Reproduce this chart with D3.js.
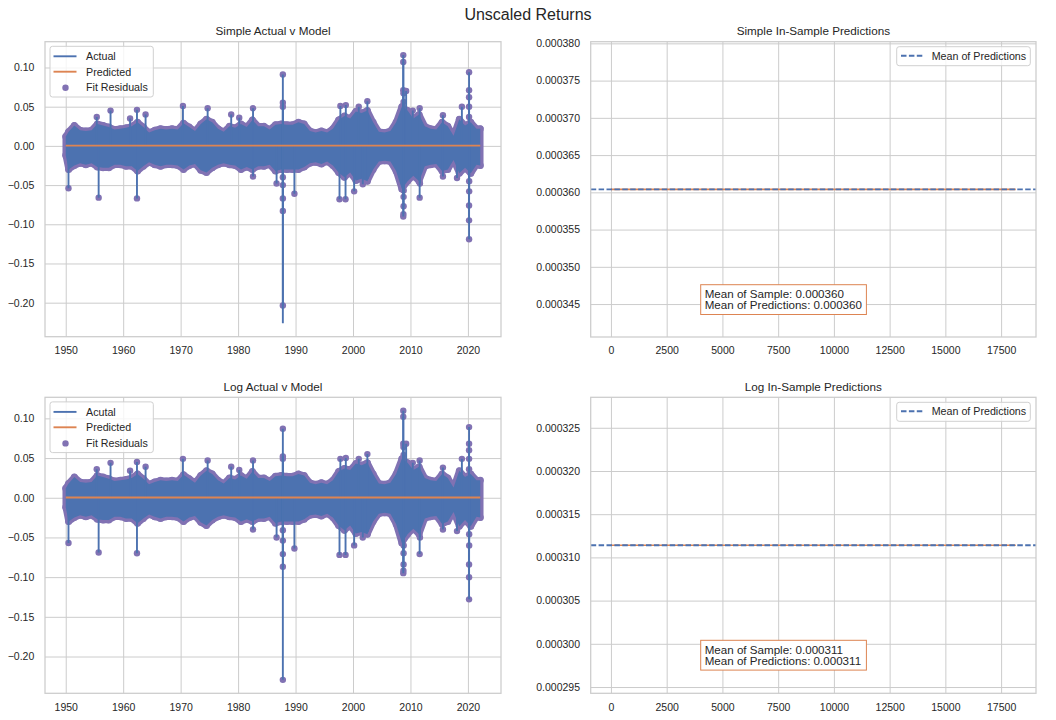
<!DOCTYPE html>
<html><head><meta charset="utf-8">
<script src="https://cdn.jsdelivr.net/npm/d3@7"></script>
<style>
body{margin:0;background:#fff;}
svg text{font-family:"Liberation Sans",Arial,Helvetica,sans-serif;}
</style></head><body>
<svg id="chart" width="1056" height="720"></svg>
<script>
// ---------------- DATA ----------------
const suptitle = "Unscaled Returns";
const panelTitles = ["Simple Actual v Model", "Simple In-Sample Predictions", "Log Actual v Model", "Log In-Sample Predictions"];
const simpleLegend = ["Actual", "Predicted", "Fit Residuals"];
const logLegend = ["Acutal", "Predicted", "Fit Residuals"];
const meanLegend = "Mean of Predictions";

// dates of the envelope points of the daily return band (start, mid-years, end)
const bandDates = [1950.0].concat(d3.range(1950.5, 2022, 1)).concat([2022.15]);

// typical upper / lower envelope of daily simple returns
const simpleBandHi = [0.012,
 0.018,0.026,0.020,0.019,0.020,0.028,0.026,0.024,0.021,0.022,
 0.023,0.025,0.030,0.024,0.017,0.020,0.022,0.021,0.022,0.021,
 0.029,0.024,0.019,0.028,0.034,0.030,0.022,0.018,0.025,0.023,
 0.028,0.024,0.033,0.025,0.025,0.021,0.027,0.028,0.027,0.027,
 0.030,0.028,0.019,0.017,0.019,0.017,0.022,0.033,0.038,0.035,
 0.044,0.042,0.045,0.030,0.018,0.017,0.019,0.030,0.050,0.045,
 0.035,0.040,0.025,0.022,0.021,0.030,0.025,0.013,0.034,0.026,
 0.030,0.022,
 0.022];
const simpleBandLo = [-0.012,
 -0.030,-0.025,-0.022,-0.024,-0.022,-0.027,-0.028,-0.028,-0.024,-0.024,
 -0.026,-0.026,-0.032,-0.026,-0.021,-0.024,-0.026,-0.024,-0.024,-0.025,
 -0.030,-0.025,-0.023,-0.031,-0.034,-0.028,-0.024,-0.022,-0.024,-0.025,
 -0.030,-0.027,-0.030,-0.026,-0.026,-0.024,-0.032,-0.030,-0.030,-0.030,
 -0.030,-0.027,-0.022,-0.021,-0.023,-0.020,-0.025,-0.034,-0.040,-0.034,
 -0.044,-0.042,-0.045,-0.030,-0.020,-0.019,-0.020,-0.032,-0.055,-0.045,
 -0.038,-0.045,-0.026,-0.024,-0.023,-0.032,-0.030,-0.018,-0.035,-0.028,
 -0.035,-0.024,
 -0.025];
// log returns envelope (visually the same as simple at this scale)
const logBandHi = [0.012,
 0.018,0.026,0.020,0.019,0.020,0.028,0.026,0.024,0.021,0.022,
 0.023,0.025,0.030,0.024,0.017,0.020,0.022,0.021,0.022,0.021,
 0.029,0.024,0.019,0.028,0.034,0.030,0.022,0.018,0.025,0.023,
 0.028,0.024,0.033,0.025,0.025,0.021,0.027,0.028,0.027,0.027,
 0.030,0.028,0.019,0.017,0.019,0.017,0.022,0.033,0.037,0.035,
 0.043,0.041,0.044,0.030,0.018,0.017,0.019,0.030,0.049,0.044,
 0.035,0.039,0.025,0.022,0.021,0.030,0.025,0.013,0.034,0.026,
 0.030,0.022,
 0.022];
const logBandLo = [-0.012,
 -0.030,-0.025,-0.022,-0.024,-0.022,-0.027,-0.028,-0.028,-0.024,-0.024,
 -0.026,-0.026,-0.032,-0.026,-0.021,-0.024,-0.026,-0.024,-0.024,-0.025,
 -0.030,-0.025,-0.023,-0.031,-0.035,-0.028,-0.024,-0.022,-0.024,-0.025,
 -0.030,-0.027,-0.030,-0.026,-0.026,-0.024,-0.032,-0.030,-0.030,-0.030,
 -0.030,-0.027,-0.022,-0.021,-0.023,-0.020,-0.025,-0.035,-0.041,-0.035,
 -0.045,-0.043,-0.046,-0.030,-0.020,-0.019,-0.020,-0.033,-0.057,-0.046,
 -0.039,-0.046,-0.026,-0.024,-0.023,-0.033,-0.030,-0.018,-0.036,-0.028,
 -0.036,-0.024,
 -0.025];

// extreme days [date, return]
const simpleSpikes = [
 [1950.48,-0.054],[1955.40,0.037],[1955.73,-0.066],[1957.80,0.045],[1961.20,0.035],
 [1962.40,0.046],[1962.40,-0.067],[1963.90,0.040],[1970.40,0.051],[1974.70,0.048],
 [1978.80,0.040],[1980.20,0.036],[1982.60,0.048],[1982.60,-0.039],[1986.70,-0.048],
 [1987.79,0.091],[1987.79,0.055],[1987.79,0.050],[1987.79,-0.040],[1987.79,-0.050],
 [1987.79,-0.067],[1987.79,-0.083],[1987.79,-0.2036],
 [1989.80,-0.061],[1997.65,-0.068],[1997.80,0.051],[1998.70,-0.068],[1998.75,0.052],
 [2000.20,-0.058],[2001.00,0.050],[2001.70,-0.049],[2002.50,0.057],[2002.55,-0.042],
 [2008.75,0.1158],[2008.75,0.107],[2008.75,0.071],[2008.78,0.067],[2008.80,0.056],
 [2008.75,-0.090],[2008.77,-0.087],[2008.80,-0.077],[2008.80,-0.065],[2008.82,-0.057],
 [2009.25,0.070],[2010.40,0.045],[2011.60,0.048],[2011.60,-0.066],[2011.65,-0.048],
 [2015.65,0.039],[2015.65,-0.039],[2018.10,-0.041],[2018.95,0.050],
 [2020.20,0.094],[2020.20,0.071],[2020.20,0.062],[2020.20,0.050],[2020.20,0.037],
 [2020.20,-0.119],[2020.20,-0.095],[2020.20,-0.076],[2020.22,-0.058],[2020.22,-0.045]
];
// the simple "Actual" line reaches below its residual dot on 1987-10-19
const simpleLineOnly = [[1987.79,-0.2263]];

const logSpikes = [
 [1950.48,-0.057],[1955.40,0.036],[1955.73,-0.069],[1957.80,0.044],[1961.20,0.034],
 [1962.40,0.045],[1962.40,-0.070],[1963.90,0.039],[1970.40,0.049],[1974.70,0.047],
 [1978.80,0.039],[1980.20,0.035],[1982.60,0.047],[1982.60,-0.040],[1986.70,-0.050],
 [1987.79,0.087],[1987.79,0.052],[1987.79,0.049],[1987.79,-0.041],[1987.79,-0.054],
 [1987.79,-0.071],[1987.79,-0.087],[1987.79,-0.2294],
 [1989.80,-0.064],[1997.65,-0.072],[1997.80,0.049],[1998.70,-0.072],[1998.75,0.050],
 [2000.20,-0.060],[2001.00,0.049],[2001.70,-0.050],[2002.50,0.055],[2002.55,-0.043],
 [2008.75,0.1096],[2008.75,0.102],[2008.75,0.068],[2008.78,0.064],[2008.80,0.054],
 [2008.75,-0.095],[2008.77,-0.092],[2008.80,-0.084],[2008.80,-0.070],[2008.82,-0.060],
 [2009.25,0.068],[2010.40,0.044],[2011.60,0.047],[2011.60,-0.071],[2011.65,-0.050],
 [2015.65,0.038],[2015.65,-0.040],[2018.10,-0.042],[2018.95,0.049],
 [2020.20,0.089],[2020.20,0.068],[2020.20,0.060],[2020.20,0.049],[2020.20,0.036],
 [2020.20,-0.128],[2020.20,-0.100],[2020.20,-0.084],[2020.22,-0.060],[2020.22,-0.046]
];
const logLineOnly = [];

const simpleMean = 0.0003604;   // mean of sample = mean of predictions
const logMean = 0.0003114;
const nObs = 18158;             // number of daily observations

const leftXTicks = [1950,1960,1970,1980,1990,2000,2010,2020];
const leftYTicks = [-0.20,-0.15,-0.10,-0.05,0.00,0.05,0.10];
const rightXTicks = [0,2500,5000,7500,10000,12500,15000,17500];

// ---------------- DRAWING ----------------
const C = {blue:'#4C72B0', orange:'#DD8452', purple:'#8172B3', grid:'#cccccc', text:'#262626'};
const svg = d3.select('#chart');
svg.append('rect').attr('width',1056).attr('height',720).attr('fill','#fff');
const defs = svg.append('defs');

svg.append('text').attr('x',528).attr('y',19.5).attr('text-anchor','middle')
  .attr('font-size',16).attr('fill',C.text).text(suptitle);

const boxes = {
  tl:{x0:45, x1:501, y0:41.7, y1:336.7},
  tr:{x0:590.7, x1:1036, y0:41.7, y1:337},
  bl:{x0:45, x1:501, y0:397.3, y1:693.3},
  br:{x0:590.7, x1:1036, y0:397.3, y1:693.3}
};

let clipId = 0;
function axesFrame(b, x, y, xTicks, yTicks, xFmt, yFmt, title) {
  const g = svg.append('g');
  const gx = g.append('g').attr('transform',`translate(0,${b.y1})`)
    .call(d3.axisBottom(x).tickValues(xTicks).tickFormat(xFmt).tickSize(-(b.y1-b.y0)).tickPadding(10));
  const gy = g.append('g').attr('transform',`translate(${b.x0},0)`)
    .call(d3.axisLeft(y).tickValues(yTicks).tickFormat(yFmt).tickSize(-(b.x1-b.x0)).tickPadding(10.7));
  [gx,gy].forEach(a=>{
    a.select('.domain').remove();
    a.selectAll('.tick line').attr('stroke',C.grid).attr('stroke-width',1);
    a.selectAll('.tick text').attr('fill',C.text).attr('font-size',10.5)
      .attr('font-family','"Liberation Sans",Arial,sans-serif');
  });
  svg.append('text').attr('x',(b.x0+b.x1)/2).attr('y',b.y0-6.3).attr('text-anchor','middle')
    .attr('font-size',11.7).attr('fill',C.text).text(title);
  const id = 'clip'+(clipId++);
  defs.append('clipPath').attr('id',id).append('rect')
    .attr('x',b.x0).attr('y',b.y0).attr('width',b.x1-b.x0).attr('height',b.y1-b.y0);
  return svg.append('g').attr('clip-path',`url(#${id})`);
}
function spines(b){
  svg.append('rect').attr('x',b.x0).attr('y',b.y0).attr('width',b.x1-b.x0).attr('height',b.y1-b.y0)
    .attr('fill','none').attr('stroke',C.grid).attr('stroke-width',1.25);
}

function leftPanel(b, hi, lo, spikes, lineOnly, mean, title, labels) {
  const vals = hi.concat(lo, spikes.map(d=>d[1]), lineOnly.map(d=>d[1]));
  const [vmin, vmax] = d3.extent(vals);
  const t0 = bandDates[0], t1 = bandDates[bandDates.length-1];
  const x = d3.scaleLinear().domain([t0-0.05*(t1-t0), t1+0.05*(t1-t0)]).range([b.x0,b.x1]);
  const y = d3.scaleLinear().domain([vmin-0.05*(vmax-vmin), vmax+0.05*(vmax-vmin)]).range([b.y1,b.y0]);
  const g = axesFrame(b, x, y, leftXTicks, leftYTicks, d3.format('d'), d3.format('.2f'), title);
  const band = bandDates.map((t,i)=>({t, hi:hi[i], lo:lo[i]}));
  const area = d3.area().x(d=>x(d.t)).y0(d=>y(d.lo)).y1(d=>y(d.hi));
  // Fit residuals (scatter, drawn below lines)
  g.append('path').datum(band).attr('d',area).attr('fill',C.purple)
    .attr('stroke',C.purple).attr('stroke-width',6.5).attr('stroke-linejoin','round');
  g.selectAll('circle.vx').data(band.flatMap(d=>[[d.t,d.hi],[d.t,d.lo]])).join('circle')
    .attr('cx',d=>x(d[0])).attr('cy',d=>y(d[1])).attr('r',3.5).attr('fill',C.purple);
  g.selectAll('circle.sp').data(spikes).join('circle')
    .attr('cx',d=>x(d[0])).attr('cy',d=>y(d[1])).attr('r',3.2).attr('fill',C.purple);
  // Actual
  g.append('path').datum(band).attr('d',area).attr('fill',C.blue);
  g.append('g').selectAll('line').data(spikes.concat(lineOnly)).join('line')
    .attr('x1',d=>x(d[0])).attr('x2',d=>x(d[0])).attr('y1',y(0)).attr('y2',d=>y(d[1]))
    .attr('stroke',C.blue).attr('stroke-width',1.9);
  // Predicted
  g.append('line').attr('x1',x(t0)).attr('x2',x(t1)).attr('y1',y(mean)).attr('y2',y(mean))
    .attr('stroke',C.orange).attr('stroke-width',1.8);
  spines(b);
  // legend
  const lx = b.x0+5, ly = b.y0+4.6;
  const lg = svg.append('g');
  lg.append('rect').attr('x',lx).attr('y',ly).attr('width',103.3).attr('height',50.7).attr('rx',2.5)
    .attr('fill','#fff').attr('fill-opacity',0.8).attr('stroke','#d0d0d0').attr('stroke-width',1);
  const rows = [ly+10, ly+25.4, ly+41];
  lg.append('line').attr('x1',lx+3.5).attr('x2',lx+26.5).attr('y1',rows[0]).attr('y2',rows[0]).attr('stroke',C.blue).attr('stroke-width',1.9);
  lg.append('line').attr('x1',lx+3.5).attr('x2',lx+26.5).attr('y1',rows[1]).attr('y2',rows[1]).attr('stroke',C.orange).attr('stroke-width',1.9);
  lg.append('circle').attr('cx',lx+15.5).attr('cy',rows[2]+0.5).attr('r',3.2).attr('fill',C.purple);
  labels.forEach((t,i)=>lg.append('text').attr('x',lx+36).attr('y',rows[i]).attr('dy','0.36em')
    .attr('font-size',10.7).attr('fill',C.text).text(t));
}

function rightPanel(b, mean, n, title) {
  const x = d3.scaleLinear().domain([-0.05*(n-1), 1.05*(n-1)]).range([b.x0,b.x1]);
  const half = 0.05*mean*1.1;
  const y = d3.scaleLinear().domain([mean-half, mean+half]).range([b.y1,b.y0]);
  const yTicks = y.ticks(8);
  const g = axesFrame(b, x, y, rightXTicks, yTicks, d3.format('d'), d3.format('.6f'), title);
  // in-sample predictions
  g.append('line').attr('x1',x(0)).attr('x2',x(n-1)).attr('y1',y(mean)).attr('y2',y(mean))
    .attr('stroke',C.orange).attr('stroke-width',1.6);
  // mean of predictions
  g.append('line').attr('x1',b.x0).attr('x2',b.x1).attr('y1',y(mean)).attr('y2',y(mean))
    .attr('stroke',C.blue).attr('stroke-width',1.9).attr('stroke-dasharray','5.5,2.4');
  spines(b);
  // legend
  const lw = 133.6, lx = b.x1-5.7-lw, ly = b.y0+5;
  const lg = svg.append('g');
  lg.append('rect').attr('x',lx).attr('y',ly).attr('width',lw).attr('height',19).attr('rx',2.5)
    .attr('fill','#fff').attr('fill-opacity',0.8).attr('stroke','#d0d0d0').attr('stroke-width',1);
  lg.append('line').attr('x1',lx+4.3).attr('x2',lx+26).attr('y1',ly+9).attr('y2',ly+9)
    .attr('stroke',C.blue).attr('stroke-width',1.9).attr('stroke-dasharray','5.5,2.4');
  lg.append('text').attr('x',lx+35).attr('y',ly+9).attr('dy','0.36em').attr('font-size',10.7)
    .attr('fill',C.text).text(meanLegend);
  // annotation box
  const fmt = d3.format('.6f');
  const ax = b.x0+110, ay = b.y0+243;
  const ag = svg.append('g');
  ag.append('rect').attr('x',ax).attr('y',ay).attr('width',165.7).attr('height',29.8)
    .attr('fill','#fff').attr('stroke',C.orange).attr('stroke-width',1);
  ag.append('text').attr('x',ax+4).attr('y',ay+13.2).attr('font-size',11.6).attr('fill',C.text)
    .text('Mean of Sample: '+fmt(mean));
  ag.append('text').attr('x',ax+4).attr('y',ay+24.6).attr('font-size',11.6).attr('fill',C.text)
    .text('Mean of Predictions: '+fmt(mean));
}

leftPanel(boxes.tl, simpleBandHi, simpleBandLo, simpleSpikes, simpleLineOnly, simpleMean, panelTitles[0], simpleLegend);
rightPanel(boxes.tr, simpleMean, nObs, panelTitles[1]);
leftPanel(boxes.bl, logBandHi, logBandLo, logSpikes, logLineOnly, logMean, panelTitles[2], logLegend);
rightPanel(boxes.br, logMean, nObs, panelTitles[3]);
</script>
</body></html>
